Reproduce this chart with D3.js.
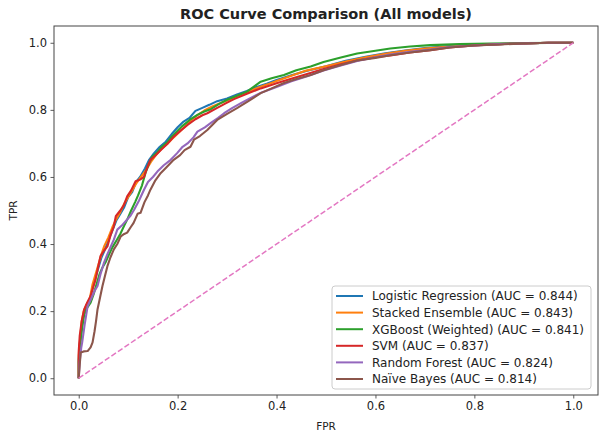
<!DOCTYPE html>
<html>
<head>
<meta charset="utf-8">
<script src="https://cdn.jsdelivr.net/npm/d3@7"></script>
<style>
  body { margin: 0; background: #fff; }
  text { font-family: "DejaVu Sans", sans-serif; fill: #222; }
</style>
</head>
<body>
<div id="chart"></div>
<script>
// model names and AUC values
var models = ["Logistic Regression", "Stacked Ensemble", "XGBoost (Weighted)", "SVM", "Random Forest", "Naïve Bayes"];
var aucs = ["0.844", "0.843", "0.841", "0.837", "0.824", "0.814"];
var colors = ["#1f77b4", "#ff7f0e", "#2ca02c", "#d62728", "#9467bd", "#8c564b"];
var ticks = [0.0, 0.2, 0.4, 0.6, 0.8, 1.0];

// [fpr, tpr]
var rocLogistic = [[0,0],[0,0.06],[0.002,0.1],[0.006,0.15],[0.01,0.19],[0.016,0.21],[0.022,0.23],[0.028,0.27],
  [0.034,0.3],[0.04,0.33],[0.046,0.36],[0.052,0.38],[0.06,0.41],[0.068,0.44],[0.076,0.47],[0.084,0.49],
  [0.092,0.51],[0.1,0.54],[0.108,0.555],[0.116,0.585],[0.124,0.6],[0.134,0.625],[0.142,0.65],[0.152,0.67],
  [0.164,0.69],[0.176,0.705],[0.188,0.728],[0.2,0.748],[0.212,0.765],[0.224,0.776],[0.236,0.797],[0.25,0.806],
  [0.264,0.815],[0.28,0.826],[0.3,0.834],[0.32,0.846],[0.34,0.856],[0.36,0.868],[0.38,0.878],[0.4,0.889],
  [0.43,0.903],[0.46,0.916],[0.5,0.93],[0.54,0.946],[0.58,0.958],[0.62,0.969],[0.66,0.977],[0.7,0.984],
  [0.75,0.99],[0.8,0.993],[0.85,0.996],[0.9,0.998],[0.95,1],[1,1]];
var rocStacked = [[0,0],[0,0.07],[0.003,0.12],[0.006,0.17],[0.01,0.2],[0.016,0.22],[0.022,0.235],[0.028,0.28],
  [0.034,0.31],[0.04,0.34],[0.046,0.37],[0.052,0.395],[0.06,0.42],[0.068,0.45],[0.076,0.475],[0.084,0.495],
  [0.092,0.52],[0.1,0.54],[0.108,0.56],[0.116,0.58],[0.126,0.6],[0.136,0.62],[0.146,0.645],[0.156,0.665],
  [0.168,0.685],[0.18,0.7],[0.192,0.718],[0.204,0.735],[0.216,0.752],[0.228,0.77],[0.24,0.784],[0.254,0.798],
  [0.27,0.81],[0.286,0.82],[0.304,0.83],[0.322,0.842],[0.342,0.853],[0.362,0.866],[0.382,0.876],[0.4,0.886],
  [0.43,0.902],[0.46,0.917],[0.5,0.93],[0.54,0.944],[0.58,0.957],[0.62,0.967],[0.66,0.976],[0.7,0.983],
  [0.75,0.989],[0.8,0.993],[0.85,0.996],[0.9,0.998],[0.95,1],[1,1]];
var rocXgb = [[0,0],[0,0.05],[0.003,0.1],[0.007,0.15],[0.011,0.19],[0.017,0.21],[0.024,0.225],[0.03,0.25],
  [0.036,0.28],[0.042,0.31],[0.048,0.33],[0.054,0.345],[0.06,0.365],[0.068,0.39],[0.076,0.41],[0.084,0.43],
  [0.092,0.455],[0.098,0.473],[0.106,0.5],[0.114,0.525],[0.12,0.545],[0.128,0.575],[0.135,0.612],[0.142,0.64],
  [0.149,0.661],[0.158,0.672],[0.168,0.69],[0.179,0.703],[0.188,0.72],[0.198,0.735],[0.208,0.75],[0.218,0.762],
  [0.226,0.772],[0.24,0.785],[0.254,0.795],[0.267,0.802],[0.284,0.818],[0.3,0.83],[0.32,0.842],[0.341,0.855],
  [0.355,0.87],[0.368,0.884],[0.39,0.894],[0.415,0.904],[0.44,0.918],[0.469,0.929],[0.495,0.943],[0.53,0.956],
  [0.563,0.968],[0.6,0.976],[0.63,0.983],[0.67,0.989],[0.711,0.993],[0.77,0.996],[0.832,0.998],[0.9,0.999],[1,1]];
var rocSvm = [[0,0],[0,0.08],[0.002,0.126],[0.006,0.17],[0.011,0.205],[0.017,0.225],[0.024,0.245],[0.029,0.27],
  [0.034,0.294],[0.039,0.33],[0.044,0.364],[0.051,0.38],[0.058,0.393],[0.064,0.425],[0.071,0.453],[0.075,0.483],
  [0.084,0.5],[0.091,0.515],[0.098,0.542],[0.106,0.56],[0.115,0.587],[0.124,0.592],[0.132,0.6],[0.139,0.63],
  [0.145,0.651],[0.155,0.664],[0.166,0.68],[0.18,0.7],[0.192,0.72],[0.206,0.738],[0.22,0.755],[0.236,0.772],
  [0.25,0.784],[0.26,0.79],[0.28,0.806],[0.298,0.82],[0.314,0.832],[0.34,0.848],[0.368,0.864],[0.4,0.879],
  [0.428,0.892],[0.46,0.906],[0.495,0.922],[0.53,0.936],[0.563,0.947],[0.6,0.957],[0.63,0.962],[0.67,0.971],
  [0.711,0.978],[0.75,0.986],[0.798,0.992],[0.85,0.996],[0.9,0.998],[0.95,1],[1,1]];
var rocForest = [[0,0],[0.002,0.05],[0.005,0.09],[0.007,0.107],[0.012,0.16],[0.018,0.215],[0.026,0.24],[0.032,0.26],
  [0.038,0.275],[0.044,0.31],[0.051,0.344],[0.058,0.37],[0.064,0.39],[0.071,0.413],[0.078,0.443],[0.087,0.455],
  [0.098,0.473],[0.105,0.485],[0.112,0.502],[0.122,0.53],[0.132,0.562],[0.14,0.585],[0.15,0.6],[0.159,0.616],
  [0.172,0.635],[0.186,0.651],[0.199,0.671],[0.21,0.69],[0.22,0.7],[0.232,0.718],[0.24,0.735],[0.255,0.748],
  [0.268,0.762],[0.282,0.776],[0.294,0.79],[0.31,0.805],[0.328,0.82],[0.347,0.835],[0.37,0.852],[0.4,0.868],
  [0.43,0.885],[0.462,0.9],[0.495,0.917],[0.53,0.932],[0.563,0.946],[0.6,0.957],[0.63,0.965],[0.67,0.973],
  [0.711,0.98],[0.75,0.987],[0.8,0.992],[0.85,0.996],[0.9,0.998],[0.95,1],[1,1]];
var rocBayes = [[0,0],[0.002,0.04],[0.004,0.077],[0.01,0.08],[0.018,0.081],[0.024,0.092],[0.028,0.107],[0.032,0.14],
  [0.035,0.17],[0.038,0.205],[0.043,0.24],[0.048,0.275],[0.053,0.305],[0.058,0.334],[0.064,0.36],[0.071,0.384],
  [0.078,0.4],[0.085,0.423],[0.092,0.43],[0.098,0.434],[0.105,0.45],[0.111,0.463],[0.119,0.49],[0.125,0.493],
  [0.133,0.525],[0.14,0.545],[0.145,0.562],[0.155,0.59],[0.166,0.612],[0.178,0.63],[0.192,0.651],[0.205,0.665],
  [0.214,0.68],[0.226,0.69],[0.233,0.711],[0.245,0.722],[0.26,0.74],[0.27,0.755],[0.28,0.77],[0.3,0.788],
  [0.32,0.805],[0.343,0.826],[0.368,0.85],[0.39,0.864],[0.415,0.88],[0.44,0.892],[0.469,0.904],[0.495,0.918],
  [0.53,0.934],[0.563,0.947],[0.6,0.955],[0.63,0.963],[0.67,0.971],[0.711,0.978],[0.75,0.986],[0.8,0.992],
  [0.85,0.995],[0.9,0.998],[0.95,1],[1,1]];
var curves = [rocLogistic, rocStacked, rocXgb, rocSvm, rocForest, rocBayes];
var chance = [[0,0],[1,1]];

var W = 606, H = 438;
var margin = {top: 26, right: 8, bottom: 43, left: 54};
var w = W - margin.left - margin.right, h = H - margin.top - margin.bottom;

var svg = d3.select("#chart").append("svg")
    .attr("width", W)
    .attr("height", H);

var x = d3.scaleLinear().domain([-0.05, 1.05]).range([0, w]);
var y = d3.scaleLinear().domain([-0.05, 1.05]).range([h, 0]);

var g = svg.append("g")
    .attr("transform", "translate(" + margin.left + "," + margin.top + ")");

var line = d3.line()
    .x(function(d){ return x(d[0]); })
    .y(function(d){ return y(d[1]); });

curves.forEach(function(c, i){
    g.append("path")
        .attr("d", line(c))
        .attr("fill", "none")
        .attr("stroke", colors[i])
        .attr("stroke-width", 2.1)
        .attr("stroke-linejoin", "round");
});

g.append("path")
    .attr("d", line(chance))
    .attr("fill", "none")
    .attr("stroke", "#e377c2")
    .attr("stroke-width", 1.5)
    .attr("stroke-dasharray", "5.5,2.4");

// axes
var xAxis = g.append("g")
    .attr("transform", "translate(0," + h + ")")
    .call(d3.axisBottom(x).tickValues(ticks).tickFormat(d3.format(".1f")).tickSizeOuter(0).tickSize(3.5).tickPadding(3.5));
var yAxis = g.append("g")
    .call(d3.axisLeft(y).tickValues(ticks).tickFormat(d3.format(".1f")).tickSizeOuter(0).tickSize(3.5).tickPadding(3.5));
[xAxis, yAxis].forEach(function(a){
    a.select(".domain").remove();
    a.selectAll("line").attr("stroke", "#333").attr("stroke-width", 0.8);
    a.selectAll("text").attr("font-size", "11.5px").attr("fill", "#222").style("font-family", "DejaVu Sans");
});

g.append("rect")
    .attr("width", w).attr("height", h)
    .attr("fill", "none")
    .attr("stroke", "#444")
    .attr("stroke-width", 1);

svg.append("text")
    .attr("x", margin.left + w / 2)
    .attr("y", 19)
    .attr("text-anchor", "middle")
    .attr("font-size", "14.5px")
    .attr("font-weight", "bold")
    .text("ROC Curve Comparison (All models)");

svg.append("text")
    .attr("x", margin.left + w / 2)
    .attr("y", 430)
    .attr("text-anchor", "middle")
    .attr("font-size", "10.5px")
    .text("FPR");

svg.append("text")
    .attr("transform", "translate(16.5," + (margin.top + h / 2) + ") rotate(-90)")
    .attr("text-anchor", "middle")
    .attr("font-size", "10.5px")
    .text("TPR");

// legend
var leg = svg.append("g").attr("transform", "translate(332,286)");
leg.append("rect")
    .attr("width", 259).attr("height", 103)
    .attr("rx", 3)
    .attr("fill", "#fff").attr("fill-opacity", 0.8)
    .attr("stroke", "#ccc").attr("stroke-width", 1);
models.forEach(function(m, i){
    var row = leg.append("g").attr("transform", "translate(0," + (10 + i * 16.6) + ")");
    row.append("line")
        .attr("x1", 4).attr("x2", 31)
        .attr("stroke", colors[i]).attr("stroke-width", 2);
    row.append("text")
        .attr("x", 40).attr("y", 4.3)
        .attr("font-size", "12px")
        .text(m + " (AUC = " + aucs[i] + ")");
});
</script>
</body>
</html>
